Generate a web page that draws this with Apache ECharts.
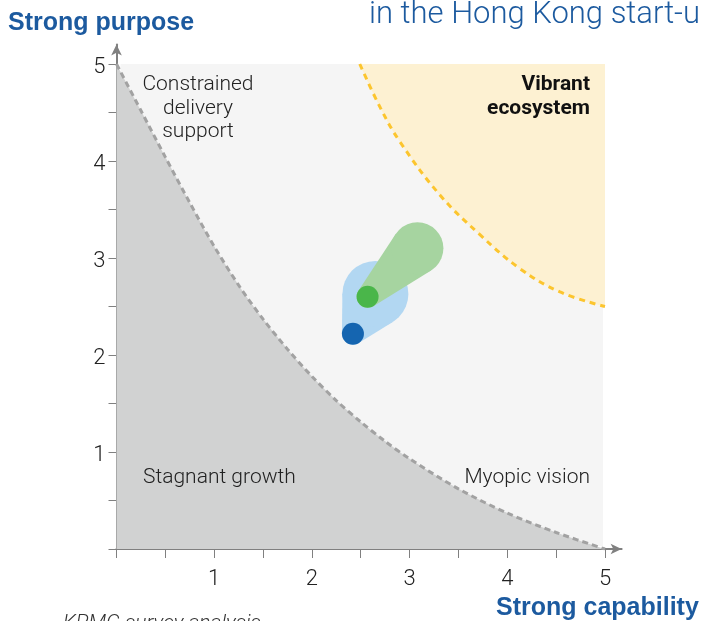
<!DOCTYPE html>
<html>
<head>
<meta charset="utf-8">
<script src="https://cdn.jsdelivr.net/npm/echarts@6/dist/echarts.min.js"></script>
<style>
html,body{margin:0;padding:0;background:#fff;}
#c{width:701px;height:621px;}
</style>
</head>
<body>
<div id="c"></div>
<script>
// ---- data ----
const xTickValues = [0, 0.5, 1, 1.5, 2, 2.5, 3, 3.5, 4, 4.5, 5];
const yTickValues = [0, 0.5, 1, 1.5, 2, 2.5, 3, 3.5, 4, 4.5, 5];
const axisLabelValues = [1, 2, 3, 4, 5];
const plotExtent = [0, 5];

// boundary of "Stagnant growth" region (dashed grey curve)
const stagnantBoundary = [
  [0, 5.0], [0.25, 4.52], [0.5, 4.04], [0.75, 3.57], [1.0, 3.12], [1.25, 2.72],
  [1.5, 2.37], [1.75, 2.06], [2.0, 1.78], [2.25, 1.53], [2.5, 1.31], [2.75, 1.11],
  [3.0, 0.93], [3.5, 0.62], [4.0, 0.37], [4.5, 0.17], [5.0, 0.0]
];
// boundary of "Vibrant ecosystem" region (dashed yellow curve)
const vibrantBoundary = [
  [2.49, 5.0], [2.7, 4.55], [2.9, 4.2], [3.31, 3.65], [3.72, 3.24],
  [4.13, 2.89], [4.54, 2.65], [5.0, 2.5]
];
// movement: [fromX, fromY, toX, toY]
const hongKongPrev = [2.42, 2.22, 2.65, 2.63];
const hongKongNow  = [2.57, 2.60, 3.08, 3.10];

const quadrantLabels = {
  topLeft: 'Constrained\ndelivery\nsupport',
  topRight: 'Vibrant\necosystem',
  bottomLeft: 'Stagnant growth',
  bottomRight: 'Myopic vision'
};
const yAxisTitle = 'Strong purpose';
const xAxisTitle = 'Strong capability';
const headerText = 'in the Hong Kong start-up ecosystem';
const sourceText = 'KPMG survey analysis';

// ---- chart ----
const chart = echarts.init(document.getElementById('c'), null, {renderer: 'canvas'});
const FONT = 'Roboto, "Liberation Sans", sans-serif';
const BOLD = '"Liberation Sans", Arial, sans-serif';
const axisColor = '#808080';

function comet(tailR, headR, fill) {
  return function (params, api) {
    const c1 = api.coord([api.value(0), api.value(1)]);
    const c2 = api.coord([api.value(2), api.value(3)]);
    const dx = c2[0] - c1[0], dy = c2[1] - c1[1];
    const L = Math.sqrt(dx * dx + dy * dy);
    const th = Math.atan2(dy, dx);
    const a = Math.acos(Math.max(-1, Math.min(1, (tailR - headR) / L)));
    const pts = [];
    [th + a, th - a].forEach(function (ang, i) {
      const p1 = [c1[0] + tailR * Math.cos(ang), c1[1] + tailR * Math.sin(ang)];
      const p2 = [c2[0] + headR * Math.cos(ang), c2[1] + headR * Math.sin(ang)];
      if (i === 0) { pts.push(p1, p2); } else { pts.push(p2, p1); }
    });
    return {
      type: 'group',
      children: [
        {type: 'polygon', shape: {points: pts}, style: {fill: fill}},
        {type: 'circle', shape: {cx: c2[0], cy: c2[1], r: headR}, style: {fill: fill}},
        {type: 'circle', shape: {cx: c1[0], cy: c1[1], r: tailR}, style: {fill: fill}}
      ]
    };
  };
}
function dot(r, fill) {
  return function (params, api) {
    const c1 = api.coord([api.value(0), api.value(1)]);
    return {type: 'circle', shape: {cx: c1[0], cy: c1[1], r: r}, style: {fill: fill}};
  };
}

const option = {
  animation: false,
  grid: {left: 116.5, top: 44.6, right: 79.4, bottom: 72, containLabel: false},
  xAxis: {
    type: 'value', min: 0, max: 5.17, interval: 0.5,
    splitLine: {show: false},
    axisLine: {onZero: false, lineStyle: {color: axisColor, width: 2}, symbol: ['none', 'arrow'], symbolSize: [8, 11]},
    axisTick: {show: true, length: 9, lineStyle: {color: axisColor, width: 1}, customValues: xTickValues},
    axisLabel: {customValues: axisLabelValues, color: '#222', fontSize: 22, fontFamily: FONT, fontWeight: 300, margin: 19}
  },
  yAxis: {
    type: 'value', min: 0, max: 5.2, interval: 0.5,
    splitLine: {show: false},
    axisLine: {onZero: false, lineStyle: {color: axisColor, width: 2}, symbol: ['none', 'arrow'], symbolSize: [8, 11]},
    axisTick: {show: true, length: 8, lineStyle: {color: axisColor, width: 1}, customValues: yTickValues},
    axisLabel: {
      customValues: axisLabelValues, margin: 11,
      formatter: '{a|{value}}',
      rich: {a: {color: '#222', fontSize: 22, fontFamily: FONT, fontWeight: 300, padding: [6, 0, 0, 0]}}
    }
  },
  series: [
    {
      type: 'custom', silent: true, z: 1,
      data: [[plotExtent[0], plotExtent[0], plotExtent[1], plotExtent[1]]],
      renderItem: function (params, api) {
        const a = api.coord([api.value(0), api.value(1)]);
        const b = api.coord([api.value(2), api.value(3)]);
        return {type: 'rect', shape: {x: a[0] + 4, y: b[1], width: b[0] - a[0] - 6, height: a[1] - b[1] - 3}, style: {fill: '#f5f5f5'}};
      }
    },
    {
      type: 'line', z: 2, data: stagnantBoundary, smooth: 0.3, symbol: 'none', silent: true,
      lineStyle: {color: '#a2a2a2', width: 3, type: [6, 4]},
      areaStyle: {color: '#d1d2d2', opacity: 1, origin: 'start'}
    },
    {
      type: 'line', z: 2, data: vibrantBoundary, smooth: 0.4, symbol: 'none', silent: true,
      lineStyle: {color: '#fcc52e', width: 3, type: [6, 5]},
      areaStyle: {color: '#fdf1d2', opacity: 1, origin: plotExtent[1]}
    },
    {type: 'custom', z: 3, silent: true, data: [hongKongPrev], renderItem: comet(11, 33, '#b2d7f2')},
    {type: 'custom', z: 4, silent: true, data: [hongKongNow], renderItem: comet(11, 26, '#a6d4a0')},
    {type: 'custom', z: 5, silent: true, data: [hongKongPrev], renderItem: dot(11, '#1565b0')},
    {type: 'custom', z: 6, silent: true, data: [hongKongNow], renderItem: dot(11, '#4ab64a')}
  ],
  graphic: [
    {type: 'text', x: 8, y: 23, style: {text: yAxisTitle, fill: '#1c5a9f', font: 'bold 25px ' + BOLD, verticalAlign: 'middle'}},
    {type: 'text', x: 369, y: 15, style: {text: headerText, fill: '#1c5a9f', font: '300 31px ' + FONT, verticalAlign: 'middle'}},
    {type: 'text', x: 496, y: 608, style: {text: xAxisTitle, fill: '#1c5a9f', font: 'bold 25px ' + BOLD, verticalAlign: 'middle'}},
    {type: 'text', x: 63, y: 613, style: {text: sourceText, fill: '#333', font: 'italic 300 21px ' + FONT, verticalAlign: 'top'}},
    {type: 'text', x: 198, y: 73, z: 10, style: {text: quadrantLabels.topLeft, fill: '#222', font: '300 21px ' + FONT, align: 'center', verticalAlign: 'top', lineHeight: 23.5}},
    {type: 'text', x: 590, y: 73, z: 10, style: {text: quadrantLabels.topRight, fill: '#111', font: 'bold 21px ' + FONT, align: 'right', verticalAlign: 'top', lineHeight: 23.5}},
    {type: 'text', x: 143, y: 478, z: 10, style: {text: quadrantLabels.bottomLeft, fill: '#222', font: '300 21px ' + FONT, verticalAlign: 'middle'}},
    {type: 'text', x: 590, y: 478, z: 10, style: {text: quadrantLabels.bottomRight, fill: '#222', font: '300 21px ' + FONT, align: 'right', verticalAlign: 'middle'}}
  ]
};
chart.setOption(option);
</script>
</body>
</html>
